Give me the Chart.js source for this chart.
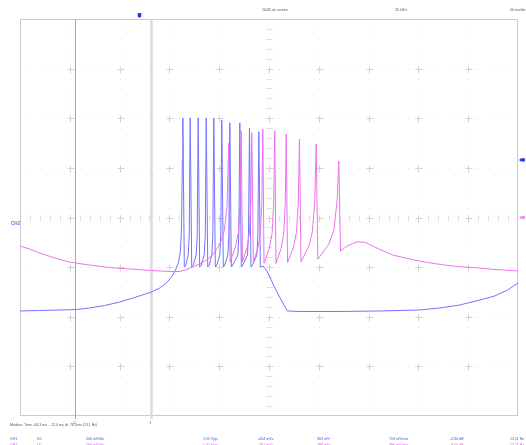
<!DOCTYPE html>
<html>
<head>
<meta charset="utf-8">
<script src="https://cdn.jsdelivr.net/npm/chart.js@4"></script>
<style>
  body { margin: 0; background: #fff; }
  canvas { display: block; }
</style>
</head>
<body>
<canvas id="scope" width="526" height="445"></canvas>
<script>
// Oscilloscope capture - two channels, 50 ms/div, 500 mV/div

// CH1 (blue) - time in ms from trigger, level in mV from screen centre
const ch1Time = [-120, -100.4, -80.3, -63.3, -50.2, -35.1, -20.1, -5, 12, 20.1, 27.1, 32.1, 36.1, 39.2, 41.2, 42.2, 43, 43.5, 45,
    46.5, 48.9, 49.9, 50.9, 52.4,
    54, 56.9, 57.9, 58.9, 60.4,
    62, 65, 66, 67, 68.5,
    70, 72.6, 73.6, 74.6, 76.1,
    77.6, 80.6, 81.6, 82.6, 84.1,
    85.6, 88.7, 89.7, 90.7, 92.2,
    93.7, 98.7, 99.7, 100.7, 102.2,
    103.7, 108.4, 109.4, 110.4, 111.9,
    113.4, 117.8, 118.8, 119.8, 121.3,
    124, 128.5, 134.5, 140.6, 145.6, 148.6, 160.6, 200.8, 240.9, 281.1, 301.2, 321.3, 341.4, 356.5, 369.5, 380];
const ch1Volt = [-942, -937, -932, -927, -912, -887, -852, -806, -751, -711, -660, -600, -529, -449, -328, -76, 580, 1003, -499,
    -479, -378, -176, 1003, -499,
    -479, -378, -176, 1003, -499,
    -479, -378, -176, 1003, -499,
    -479, -378, -176, 1003, -499,
    -479, -378, -176, 983, -499,
    -479, -378, -176, 953, -499,
    -479, -378, -176, 953, -499,
    -479, -378, -176, 902, -499,
    -479, -378, -176, 865, -499,
    -489, -549, -680, -801, -892, -942, -947, -947, -942, -932, -912, -882, -832, -791, -731, -660];

// CH2 (magenta)
const ch2Time = [-120, -110.4, -100.4, -85.3, -70.3, -50.2, -30.1, -10, 12, 30.1, 40.2, 46.2, 53.2, 60.2, 67.3, 73.3, 78.3, 82.3, 85.3, 87.9, 89.6, 90.9,
    96.3, 99.3, 101, 102.1, 103.4,
    108.1, 110.4, 111.8, 112.7, 114.3,
    119, 121.4, 122.8, 123.8, 125,
    130.4, 133.1, 134.7, 135.8, 137,
    142.2, 144.8, 146.3, 147.3, 148.6,
    154.6, 157.6, 159.4, 160.6, 162.1,
    169.8, 173.6, 175.9, 177.4, 179,
    190, 195.3, 198.5, 200.1, 201.8,
    205.8, 210.8, 218.9, 226.9, 236, 254, 271.1, 288.1, 306.2, 321.3, 341.4, 354.4, 380];
const ch2Volt = [-287, -318, -358, -408, -449, -479, -504, -519, -534, -544, -544, -529, -499, -469, -428, -378, -307, -227, -126, 126, 751, -449,
    -297, -146, 156, 875, -449,
    -297, -146, 156, 855, -454,
    -302, -151, 151, 889, -462,
    -310, -159, 143, 875, -462,
    -310, -159, 143, 842, -452,
    -300, -149, 153, 791, -446,
    -294, -143, 159, 741, -421,
    -270, -119, 183, 570, -338,
    -307, -277, -244, -252, -297, -378, -418, -452, -479, -496, -509, -522, -539];

// screen divisions (10 x 50 ms, 8 x 500 mV)
const timeDivs = [-120, -70, -20, 30, 80, 130, 180, 230, 280, 330, 380];
const voltDivs = [-2000, -1500, -1000, -500, 0, 500, 1000, 1500, 2000];

// cursors
const markerTimes = [12.0, -64.3];
const markerNames = ['1', '2'];

// channel level markers (mV)
const ch1Level = 580;
const ch2Level = 0;

// measurement rows
const ch1Row = ['CH1', 'DC', '500 mV/div', '1,95 Vpp', '-654 mV=', '363 mV~', '724 mV/rms', '-2,80 dB', '13,11 Hz'];
const ch2Row = ['CH2', 'DC', '500 mV/div', '1,41 Vpp', '-261 mV=', '288 mV~', '396 mV/rms', '-8,05 dB', '13,11 Hz'];
const rowX = [10, 37, 86, 203, 258, 317, 389, 450, 510];

const BLUE = '#7373ff';
const PINK = '#ec72ec';

const scopeGrid = {
    id: 'scopeGrid',
    beforeDatasetsDraw: function (chart) {
        const ctx = chart.ctx;
        const a = chart.chartArea;
        const xs = chart.scales.x;
        const ys = chart.scales.y;
        ctx.save();

        // dotted grid lines
        ctx.fillStyle = '#e2e2e2';
        for (let i = 1; i < timeDivs.length - 1; i++) {
            if (i === 5) continue;
            const px = Math.round(xs.getPixelForValue(timeDivs[i]));
            for (let v = voltDivs[0] + 100; v < voltDivs[voltDivs.length - 1]; v += 100) {
                if (v % 500 === 0) continue;
                ctx.fillRect(px, Math.round(ys.getPixelForValue(v)), 1, 1);
            }
        }
        for (let j = 1; j < voltDivs.length - 1; j++) {
            if (j === 4) continue;
            const py = Math.round(ys.getPixelForValue(voltDivs[j]));
            for (let t = timeDivs[0] + 10; t < timeDivs[timeDivs.length - 1]; t += 10) {
                if ((t - timeDivs[0]) % 50 === 0) continue;
                ctx.fillRect(Math.round(xs.getPixelForValue(t)), py, 1, 1);
            }
        }

        // centre axes with small ticks
        ctx.strokeStyle = '#e0e0e0';
        ctx.lineWidth = 1;
        const cx = Math.round(xs.getPixelForValue(timeDivs[5])) + 0.5;
        const cy = Math.round(ys.getPixelForValue(0)) + 0.5;
        ctx.beginPath();
        for (let v = voltDivs[0] + 100; v < voltDivs[voltDivs.length - 1]; v += 100) {
            const py = Math.round(ys.getPixelForValue(v)) + 0.5;
            ctx.moveTo(cx - 3, py);
            ctx.lineTo(cx + 3, py);
        }
        for (let t = timeDivs[0] + 10; t < timeDivs[timeDivs.length - 1]; t += 10) {
            const px = Math.round(xs.getPixelForValue(t)) + 0.5;
            ctx.moveTo(px, cy - 3);
            ctx.lineTo(px, cy + 3);
        }
        ctx.stroke();

        // crosses at intersections
        ctx.strokeStyle = '#d2d2d2';
        ctx.beginPath();
        for (let i = 1; i < timeDivs.length - 1; i++) {
            const px = Math.round(xs.getPixelForValue(timeDivs[i])) + 0.5;
            for (let j = 1; j < voltDivs.length - 1; j++) {
                const py = Math.round(ys.getPixelForValue(voltDivs[j])) + 0.5;
                ctx.moveTo(px - 3, py);
                ctx.lineTo(px + 4, py);
                ctx.moveTo(px, py - 3);
                ctx.lineTo(px, py + 4);
            }
        }
        ctx.stroke();

        // frame
        ctx.strokeStyle = '#cacaca';
        ctx.strokeRect(a.left + 0.5, a.top + 0.5, a.width - 1, a.height - 1);

        // cursors
        markerTimes.forEach(function (t, k) {
            const px = xs.getPixelForValue(t);
            ctx.strokeStyle = k === 0 ? '#dadada' : '#a8a8a8';
            ctx.lineWidth = k === 0 ? 2.5 : 1;
            ctx.beginPath();
            ctx.moveTo(Math.round(px) + 0.5, a.top);
            ctx.lineTo(Math.round(px) + 0.5, a.bottom + 3);
            ctx.stroke();
            ctx.fillStyle = '#666';
            ctx.font = '4px "Liberation Sans"';
            ctx.textAlign = 'center';
            ctx.textBaseline = 'middle';
            ctx.fillText(markerNames[k], px - 1, a.bottom + 7);
        });
        ctx.restore();
    },
    afterDraw: function (chart) {
        const ctx = chart.ctx;
        const a = chart.chartArea;
        const xs = chart.scales.x;
        const ys = chart.scales.y;
        ctx.save();

        // header
        ctx.font = '3.6px "Liberation Sans"';
        ctx.fillStyle = '#555';
        ctx.textAlign = 'left';
        ctx.textBaseline = 'middle';
        ctx.fillText('10/45 on screen', 262, 10);
        ctx.fillText('20 kS/s', 395, 10);
        ctx.fillText('50 ms/div', 510, 10);

        // trigger marker
        const tx = xs.getPixelForValue(0);
        ctx.fillStyle = '#1e3cff';
        ctx.beginPath();
        ctx.moveTo(tx - 1.8, 13);
        ctx.lineTo(tx + 1.8, 13);
        ctx.lineTo(tx + 1.8, 16.5);
        ctx.lineTo(tx, 18);
        ctx.lineTo(tx - 1.8, 16.5);
        ctx.closePath();
        ctx.fill();

        // channel level markers on the right
        const drawLevel = function (v, color) {
            const py = ys.getPixelForValue(v);
            ctx.fillStyle = color;
            ctx.beginPath();
            ctx.moveTo(a.right + 1, py);
            ctx.lineTo(a.right + 3, py - 1.6);
            ctx.lineTo(a.right + 7, py - 1.6);
            ctx.lineTo(a.right + 7, py + 1.6);
            ctx.lineTo(a.right + 3, py + 1.6);
            ctx.closePath();
            ctx.fill();
        };
        drawLevel(ch1Level, '#1e3cff');
        drawLevel(ch2Level, '#f090f0');

        // CH2 ground label on the left
        ctx.fillStyle = '#a050f0';
        ctx.font = 'bold 4.5px "Liberation Sans"';
        ctx.fillText('CH2', 11, ys.getPixelForValue(ch2Level) + 6);

        // marker readout
        ctx.fillStyle = '#555';
        ctx.font = '3.4px "Liberation Sans"';
        ctx.fillText('Markers: Time: -64,3 ms ... 12,0 ms, dt: 76,3 ms (13,1 Hz)', 10, 425);

        // measurement rows
        ctx.font = '3.6px "Liberation Sans"';
        ctx.fillStyle = '#4a4aff';
        ch1Row.forEach(function (s, i) { ctx.fillText(s, rowX[i], 439); });
        ctx.fillStyle = '#e050e0';
        ch2Row.forEach(function (s, i) { ctx.fillText(s, rowX[i], 445); });
        ctx.restore();
    }
};

const ctx = document.getElementById('scope').getContext('2d');

new Chart(ctx, {
    type: 'line',
    data: {
        datasets: [
            {
                label: 'CH2',
                data: ch2Time.map(function (t, i) { return { x: t, y: ch2Volt[i] }; }),
                borderColor: PINK,
                borderWidth: 1,
                pointRadius: 0,
                tension: 0,
                order: 0
            },
            {
                label: 'CH1',
                data: ch1Time.map(function (t, i) { return { x: t, y: ch1Volt[i] }; }),
                borderColor: BLUE,
                borderWidth: 1,
                pointRadius: 0,
                tension: 0,
                order: 1
            }
        ]
    },
    options: {
        responsive: false,
        animation: false,
        devicePixelRatio: 1,
        layout: { padding: { left: 20, top: 19, right: 8, bottom: 29 } },
        scales: {
            x: { type: 'linear', min: timeDivs[0], max: timeDivs[timeDivs.length - 1], display: false },
            y: { min: voltDivs[0], max: voltDivs[voltDivs.length - 1], display: false }
        },
        plugins: {
            legend: { display: false },
            tooltip: { enabled: false }
        }
    },
    plugins: [scopeGrid]
});
</script>
</body>
</html>
